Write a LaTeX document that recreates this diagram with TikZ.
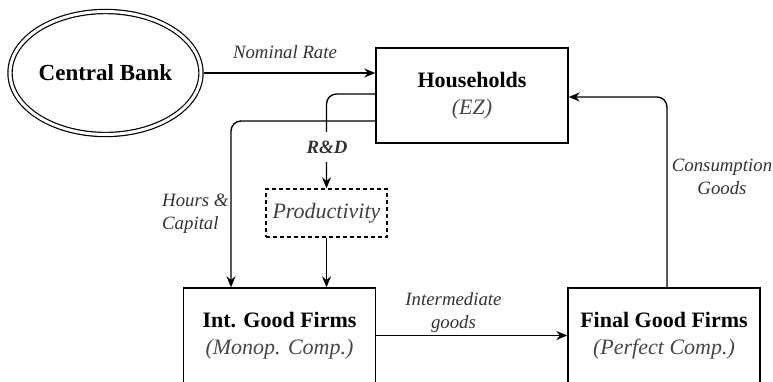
\documentclass[tikz,border=0pt]{standalone}
\usepackage{fontspec}
\setmainfont{Liberation Serif}
\usetikzlibrary{arrows.meta,shapes.geometric,calc}
\begin{document}
\begin{tikzpicture}[x=1pt,y=-1pt,
  box/.style={draw,line width=1.4pt,minimum width=192pt,minimum height=95pt,align=center,inner sep=0pt,font=\fontsize{22}{27}\selectfont},
  lbl/.style={font=\fontsize{18.8}{23}\selectfont\itshape,text=black!80,inner sep=1pt,align=center},
  conn/.style={line width=1.4pt,-{Stealth[length=11pt,width=9pt]},rounded corners=10pt},
]
\useasboundingbox (0,0) rectangle (773,381);
\clip (0,0) rectangle (773,381);

% nodes
\node[ellipse,draw,double,double distance=3pt,line width=1.2pt,minimum width=191pt,minimum height=123pt,inner sep=0pt,font=\fontsize{23}{27}\selectfont\bfseries] (cb) at (105.5,73) {Central Bank};
\node[box] (hh) at (472,95.5) {\textbf{Households}\\\textcolor{black!72}{\itshape (EZ)}};
\node[draw,dashed,dash pattern=on 4pt off 3pt,line width=1.4pt,minimum width=121pt,minimum height=48pt,inner sep=0pt,font=\fontsize{22}{27}\selectfont\itshape,text=black!75] (prod) at (326.5,213) {Productivity};
\node[box] (int) at (279.5,335.5) {\textbf{Int. Good Firms}\\\textcolor{black!72}{\itshape (Monop. Comp.)}};
\node[box] (fin) at (664,335.5) {\textbf{Final Good Firms}\\\textcolor{black!72}{\itshape (Perfect Comp.)}};

% connectors
\draw[conn] ([xshift=2.6pt]cb.east) -- (cb.east -| hh.west);
\draw[conn] ([yshift=1.5pt]hh.west) -| (prod.north);
\draw[conn] ([yshift=-25.5pt]hh.west) -| ([xshift=-48.5pt]int.north);
\draw[conn] (prod.south) -- (prod.south |- int.north);
\draw[conn] (int.east) -- (fin.west);
\draw[conn] ([xshift=3pt]fin.north) |- ([yshift=-1.5pt]hh.east);

% labels
\node[lbl] (lnr) at (285,52) {Nominal Rate};
\node[lbl,font=\fontsize{18.8}{23}\selectfont\bfseries\itshape,fill=white,minimum height=30pt] (lrd) at (327,147) {R\&D};
\node[lbl,align=left,anchor=west] (lhc) at (161,214) {Hours \&\\Capital};
\node[lbl] (lig) at (453.5,312) {Intermediate\\goods};
\node[lbl] (lcg) at (722,177) {Consumption\\Goods};
\end{tikzpicture}
\end{document}
